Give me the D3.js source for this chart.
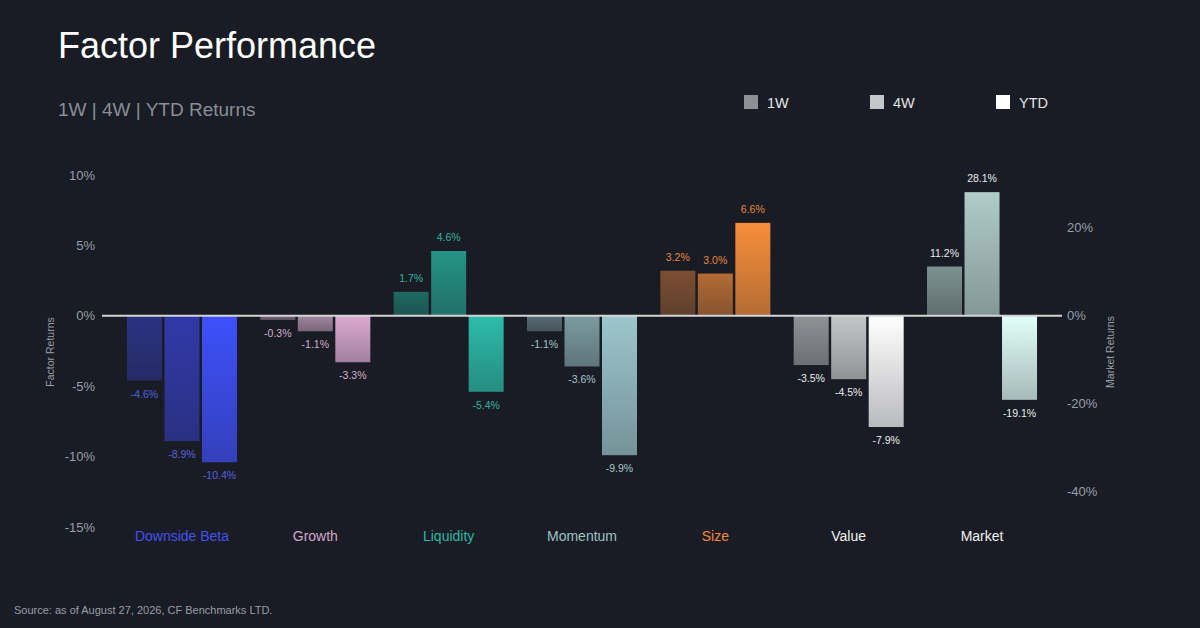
<!DOCTYPE html>
<html><head><meta charset="utf-8">
<script src="https://cdn.jsdelivr.net/npm/d3@7/dist/d3.min.js"></script>
<style>
html,body{margin:0;padding:0;background:#191c24;}
svg{display:block;font-family:"Liberation Sans",Arial,Helvetica,sans-serif;}
</style></head>
<body>
<svg id="chart" width="1200" height="628"></svg>
<script>
// ---- data ----
const categories = ["Downside Beta","Growth","Liquidity","Momentum","Size","Value","Market"];
const series = ["1W","4W","YTD"];
const values1W  = [-4.6, -0.3, 1.7, -1.1, 3.2, -3.5, 11.2];
const values4W  = [-8.9, -1.1, 4.6, -3.6, 3.0, -4.5, 28.1];
const valuesYTD = [-10.4, -3.3, -5.4, -9.9, 6.6, -7.9, -19.1];
const leftTicks = [10, 5, 0, -5, -10, -15];
const rightTicks = [20, 0, -20, -40];
const marketCategory = "Market";

// ---- styles ----
const barColors = {
  "Downside Beta": ["#2b3282","#3139aa","#3e50fc"],
  "Growth":        ["#7c6679","#a2869e","#dcaad4"],
  "Liquidity":     ["#1f6a62","#259486","#2cbcaa"],
  "Momentum":      ["#5b6b73","#7b9ba1","#9cc6cc"],
  "Size":          ["#7c4f31","#b46b33","#f88e3a"],
  "Value":         ["#909296","#c4c6c8","#ffffff"],
  "Market":        ["#7e9191","#b0ccc8","#e2fff9"]
};
const labelColors = {
  "Downside Beta": "#4452f0",
  "Growth": "#d4a6cc",
  "Liquidity": "#2ab7a3",
  "Momentum": "#9cc2c6",
  "Size": "#f28a3a",
  "Value": "#f2f2f2",
  "Market": "#f2f2f2"
};
const valueLabelColors = {
  "Downside Beta": "#5560e0",
  "Growth": "#d4b0cc",
  "Liquidity": "#2fb49f",
  "Momentum": "#a6c6ca",
  "Size": "#e8873e",
  "Value": "#ececec",
  "Market": "#e8ecec"
};
const legendColors = ["#8d9095","#c4c6c9","#ffffff"];

const svg = d3.select("#chart");
const W = 1200, H = 628;
svg.append("rect").attr("width",W).attr("height",H).attr("fill","#191c24");

const plotTop = 175, plotBottom = 527;
const x0 = d3.scaleBand().domain(categories).range([115.3, 1048.7]);
const x1 = d3.scaleBand().domain(series).range([0, 110]).paddingInner(1/15);
const groupOffset = (x0.bandwidth() - 110) / 2;
const yL = d3.scaleLinear().domain([-15, 10]).range([plotBottom, plotTop]);
const yR = d3.scaleLinear().domain([-48, 32]).range([plotBottom, plotTop]);

// title
svg.append("text").attr("x",58).attr("y",58).attr("fill","#ffffff")
  .attr("font-size",36).text("Factor Performance");
svg.append("text").attr("x",58).attr("y",116).attr("fill","#8a8e95")
  .attr("font-size",19).text("1W | 4W | YTD Returns");

// legend
const legend = svg.append("g");
series.forEach((s,i)=>{
  const g = legend.append("g").attr("transform",`translate(${744+i*126},95)`);
  g.append("rect").attr("width",14).attr("height",14).attr("fill",legendColors[i]);
  g.append("text").attr("x",23).attr("y",13).attr("fill","#e4e4e4").attr("font-size",14.5).text(s);
});

// axes
const axL = svg.append("g").attr("transform","translate(95,0)")
  .call(d3.axisLeft(yL).tickValues(leftTicks).tickSize(0).tickPadding(0).tickFormat(d=>d+"%"));
axL.select(".domain").remove();
axL.selectAll("text").attr("fill","#9a9ea4").attr("font-size",13)
  .attr("font-family","Liberation Sans, Arial, sans-serif");

const axR = svg.append("g").attr("transform","translate(1067,0)")
  .call(d3.axisRight(yR).tickValues(rightTicks).tickSize(0).tickPadding(0).tickFormat(d=>d+"%"));
axR.select(".domain").remove();
axR.selectAll("text").attr("fill","#9a9ea4").attr("font-size",13)
  .attr("font-family","Liberation Sans, Arial, sans-serif");

svg.append("text").attr("transform",`translate(54,352) rotate(-90)`)
  .attr("text-anchor","middle").attr("fill","#9a9ea4").attr("font-size",10.5).text("Factor Returns");
svg.append("text").attr("transform",`translate(1114,352) rotate(-90)`)
  .attr("text-anchor","middle").attr("fill","#9a9ea4").attr("font-size",10.5).text("Market Returns");

// gradients
const defs = svg.append("defs");
categories.forEach((c,ci)=>{
  series.forEach((s,si)=>{
    const gr = defs.append("linearGradient").attr("id",`g${ci}_${si}`)
      .attr("x1",0).attr("y1",0).attr("x2",0).attr("y2",1);
    gr.append("stop").attr("offset","0%").attr("stop-color",barColors[c][si]).attr("stop-opacity",1);
    gr.append("stop").attr("offset","100%").attr("stop-color",barColors[c][si]).attr("stop-opacity",0.7);
  });
});

// data rows
const allVals = [values1W, values4W, valuesYTD];
const rows = [];
categories.forEach((c,ci)=>{
  series.forEach((s,si)=>{
    rows.push({c, ci, s, si, v: allVals[si][ci]});
  });
});
const yFor = d => d.c === marketCategory ? yR : yL;

const bars = svg.append("g");
bars.selectAll("rect").data(rows).join("rect")
  .attr("x", d => x0(d.c) + groupOffset + x1(d.s))
  .attr("width", x1.bandwidth())
  .attr("y", d => Math.min(yFor(d)(d.v), yFor(d)(0)))
  .attr("height", d => Math.abs(yFor(d)(d.v) - yFor(d)(0)))
  .attr("fill", d => `url(#g${d.ci}_${d.si})`);

// zero line
svg.append("line").attr("x1",102).attr("x2",1062)
  .attr("y1",yL(0)).attr("y2",yL(0)).attr("stroke","#d2d4d6").attr("stroke-width",2);

// value labels
svg.append("g").selectAll("text").data(rows).join("text")
  .attr("x", d => x0(d.c) + groupOffset + x1(d.s) + x1.bandwidth()/2)
  .attr("y", d => d.v >= 0 ? yFor(d)(d.v) - 10 : yFor(d)(d.v) + 17)
  .attr("text-anchor","middle").attr("font-size",10.5)
  .attr("fill", d => valueLabelColors[d.c])
  .text(d => d.v.toFixed(1) + "%");

// category labels
svg.append("g").selectAll("text").data(categories).join("text")
  .attr("x", d => x0(d) + x0.bandwidth()/2)
  .attr("y", 541).attr("text-anchor","middle").attr("font-size",14)
  .attr("fill", d => labelColors[d]).text(d => d);

// source
svg.append("text").attr("x",14).attr("y",614).attr("fill","#9a9ea5")
  .attr("font-size",11).text("Source: as of August 27, 2026, CF Benchmarks LTD.");
</script>
</body></html>
